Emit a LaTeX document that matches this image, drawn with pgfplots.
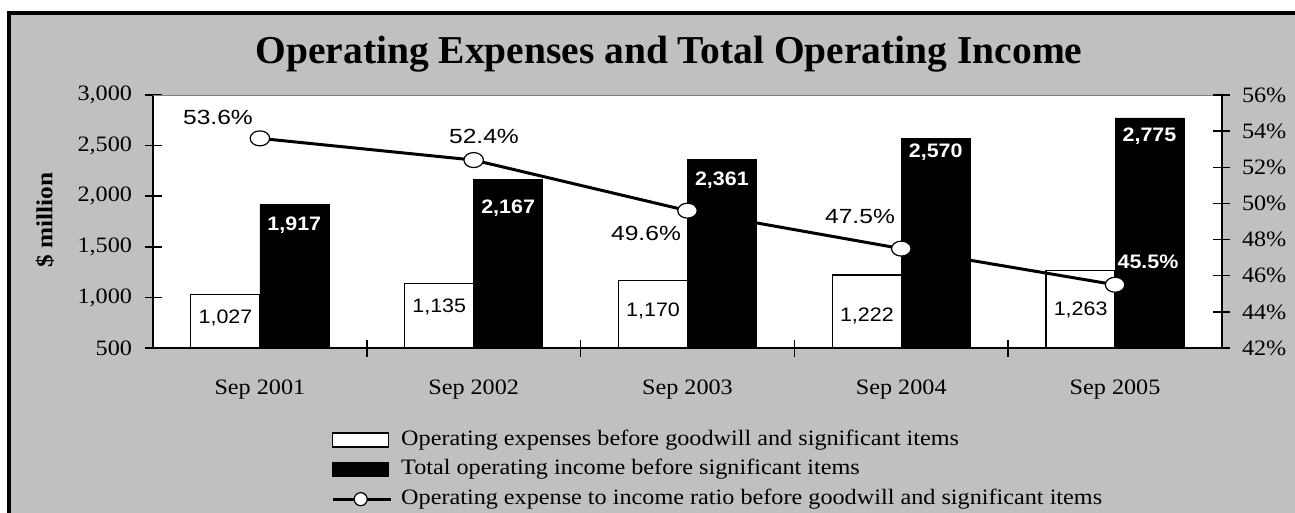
\documentclass[border=0pt]{standalone}
\usepackage{fontspec}
\setmainfont{Liberation Serif}[FakeStretch=1.1]
\newfontfamily\titlefont{Liberation Serif}
\newfontfamily\arialfont{Liberation Sans}[FakeStretch=1.1]
\newfontfamily\arialwide{Liberation Sans}[FakeStretch=1.2]
\usepackage{pgfplots}
\pgfplotsset{compat=1.18}
\definecolor{bggray}{RGB}{192,192,192}
\definecolor{edgegray}{RGB}{128,128,128}
\pgfplotsset{
  labelplot/.style={only marks, mark=*, mark size=0.01pt, mark options={draw=none,fill=none},
    nodes near coords, point meta=explicit symbolic,
    every node near coord/.append style={anchor=center, inner sep=0pt, font=\arialfont\fontsize{19.5}{22}\selectfont, text=#1}},
}
\begin{document}
\begin{tikzpicture}
\useasboundingbox (0,0) rectangle (1295pt,512pt);
\fill[white] (0,0) rectangle (1295pt,512pt);
\fill[bggray] (9pt,-20pt) rectangle (1320pt,499pt);
\draw[line width=4pt] (9.3pt,-20pt) -- (9.3pt,499pt) -- (1320pt,499pt);
\node[anchor=base, font=\titlefont\bfseries\fontsize{39.5}{44}\selectfont] at (669pt,448pt) {Operating Expenses and Total Operating Income};
\node[rotate=90, font=\bfseries\fontsize{23}{28}\selectfont] at (45pt,292pt) {\$ million};

\begin{axis}[
  at={(153pt,164pt)}, anchor=south west, scale only axis,
  width=1069pt, height=253pt,
  xmin=-0.5, xmax=4.5, ymin=500, ymax=3000,
  axis x line*=bottom, axis y line*=left,
  axis line style={line width=1.5pt, -},
  axis background/.style={fill=white},
  ytick={500,1000,...,3000},
  xtick={0.5,1.5,2.5,3.5}, xticklabels={},
  extra x ticks={0,1,2,3,4},
  extra x tick labels={Sep 2001,Sep 2002,Sep 2003,Sep 2004,Sep 2005},
  extra x tick style={major tick length=0pt, xticklabel style={yshift=-28pt}},
  tick align=center, major tick length=17pt,
  tick style={line width=1.5pt, black},
  ticklabel style={font=\fontsize{22}{26}\selectfont},
  yticklabel style={xshift=-9pt},
  /pgf/number format/1000 sep={,},
  /pgf/number format/assume math mode=true,
  legend cell align=left,
  legend style={draw=none, fill=none, at={(0.1665,-0.324)}, anchor=north west,
    font=\fontsize{22}{26}\selectfont, inner sep=0pt, row sep=9.5pt,
    nodes={inner ysep=0pt, inner xsep=9pt, text height=15pt, text depth=5pt}},
]
\draw[edgegray, line width=1pt] (rel axis cs:0,1) -- (rel axis cs:1,1);
\addplot[ybar, bar width=69pt, bar shift=-34.5pt, fill=white, draw=black, line width=1.2pt,
  legend image code/.code={\draw[black, fill=white, line width=1.5pt] (0pt,-7pt) rectangle (56pt,7pt);}]
  coordinates {(0,1027) (1,1135) (2,1170) (3,1222) (4,1263)};
\addlegendentry{Operating expenses before goodwill and significant items}
\addplot[ybar, bar width=69pt, bar shift=34.5pt, fill=black, draw=black,
  legend image code/.code={\draw[black, fill=black, line width=1.5pt] (0pt,-7pt) rectangle (56pt,7pt);}]
  coordinates {(0,1917) (1,2167) (2,2361) (3,2570) (4,2775)};
\addlegendentry{Total operating income before significant items}
\addlegendimage{legend image code/.code={\draw[black, line width=3pt] (0pt,0pt) -- (58pt,0pt);
  \draw[black, fill=white, line width=1.2pt] (28pt,0pt) circle [radius=6.5pt];}}
\addlegendentry{Operating expense to income ratio before goodwill and significant items}
\addplot[labelplot=black, forget plot] coordinates {
  (-0.161,793) [1,027] (0.839,910) [1,135] (1.839,870) [1,170] (2.839,821) [1,222] (3.839,875) [1,263]};
\addplot[labelplot=white, forget plot, every node near coord/.append style={font=\arialfont\bfseries\fontsize{19.5}{22}\selectfont}] coordinates {
  (0.161,1710) [1,917] (1.161,1880) [2,167] (2.161,2155) [2,361] (3.161,2432) [2,570] (4.161,2588) [2,775]};
\end{axis}

\begin{axis}[
  at={(153pt,164pt)}, anchor=south west, scale only axis,
  width=1069pt, height=253pt,
  xmin=-0.5, xmax=4.5, ymin=42, ymax=56,
  axis x line=none, axis y line*=right,
  axis line style={line width=1.5pt, -},
  ytick={42,44,...,56},
  yticklabel={\pgfmathprintnumber{\tick}\%},
  tick align=center, major tick length=17pt,
  tick style={line width=1.5pt, black},
  yticklabel style={font=\fontsize{22}{26}\selectfont, xshift=8pt},
  /pgf/number format/assume math mode=true,
  clip=false,
]
\addplot[black, line width=3pt, mark=*, mark size=7.5pt,
  mark options={fill=white, draw=black, line width=1.2pt, xscale=1.3}]
  coordinates {(0,53.6) (1,52.4) (2,49.6) (3,47.5) (4,45.5)};
\addplot[labelplot=black, every node near coord/.append style={font=\arialwide\fontsize{20.5}{24}\selectfont}] coordinates {
  (-0.196,54.78) [53.6\%] (1.048,53.73) [52.4\%] (1.806,48.36) [49.6\%] (2.807,49.30) [47.5\%]};
\addplot[labelplot=white, every node near coord/.append style={font=\arialfont\bfseries\fontsize{19.5}{22}\selectfont}] coordinates {
  (4.154,46.76) [45.5\%]};
\end{axis}
\end{tikzpicture}
\end{document}
